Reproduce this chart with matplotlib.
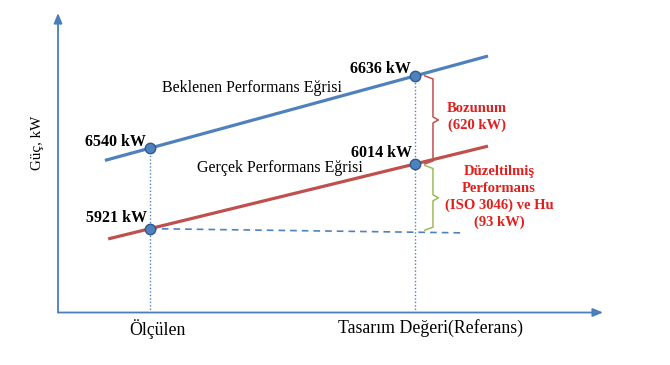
import numpy as np
import matplotlib
matplotlib.use("Agg")
import matplotlib.pyplot as plt

plt.rcParams['font.family'] = ['Liberation Serif', 'DejaVu Serif']

# categories on the x axis (schematic 0-100 scale)
categories = ["Ölçülen", "Tasarım Değeri(Referans)"]
cat_x = [16.9, 65.5]
label_x = [18.2, 68.3]

# power values shown as labels, kW
expected_kw = [6540, 6636]
actual_kw = [5921, 6014]

# heights of the points on the schematic 0-100 drawing
expected_h = [54.9, 79.0]
actual_h = [28.0, 49.6]

# horizontal extent of the two curves
expected_span = [8.6, 78.9]
actual_span = [9.2, 78.9]

# reference (dashed) line from the measured actual point
ref_line_x = [16.9, 74.1]
ref_line_h = [28.0, 26.6]

degradation_kw = 620
correction_kw = 93

blue = "#4F81BD"
red = "#C0504D"
green = "#9BBB59"
txt_red = "#E0201E"

fig = plt.figure(figsize=(6.7, 3.65), dpi=100)
ax = fig.add_axes([0.0866, 0.1438, 0.8134, 0.8205])
ax.set_xlim(0, 100)
ax.set_ylim(0, 100)
for s in ax.spines.values():
    s.set_visible(False)

# axis arrows
ax.annotate("", xy=(1, 0), xytext=(0, 0), xycoords='axes fraction',
            arrowprops=dict(arrowstyle='-|>,head_length=0.6,head_width=0.25',
                            color="#4A7EBB", lw=1.3, shrinkA=0, shrinkB=0))
ax.annotate("", xy=(0, 1), xytext=(0, 0), xycoords='axes fraction',
            arrowprops=dict(arrowstyle='-|>,head_length=0.6,head_width=0.25',
                            color="#4A7EBB", lw=1.3, shrinkA=0, shrinkB=0))

# curves through the two points
def line_through(xs, hs, span):
    k, b = np.polyfit(xs, hs, 1)
    span = np.array(span)
    return span, k * span + b

ex, ey = line_through(cat_x, expected_h, expected_span)
ax.plot(ex, ey, color=blue, lw=2.3, solid_capstyle='butt', zorder=3)
rx, ry = line_through(cat_x, actual_h, actual_span)
ax.plot(rx, ry, color=red, lw=2.3, solid_capstyle='butt', zorder=3)

# dashed reference and dotted drop lines
ax.plot(ref_line_x, ref_line_h, color=blue, lw=1.2, ls=(0, (4, 3)), zorder=2)
for x, h in zip(cat_x, expected_h):
    ax.plot([x, x], [0, h], color=blue, lw=1, ls=(0, (1, 1.5)), zorder=2)

# points
ax.plot(cat_x, expected_h, 'o', ms=7.5, color=blue, mec="#2F5A8F", mew=1, zorder=5)
ax.plot(cat_x, actual_h, 'o', ms=7.5, color=blue, mec="#2F5A8F", mew=1, zorder=5)

# value labels
for x, h, v in zip(cat_x, expected_h, expected_kw):
    ax.text(x - 0.7, h + 2.2, f"{v} kW", ha='right', va='center',
            fontsize=11.5, fontweight='bold')
for x, h, v in zip(cat_x, actual_h, actual_kw):
    ax.text(x - 0.5, h + 3.7, f"{v} kW", ha='right', va='center',
            fontsize=11.5, fontweight='bold')

ax.text(19.1, 75.0, "Beklenen Performans Eğrisi", ha='left', va='center', fontsize=11.5)
ax.text(25.5, 48.2, "Gerçek Performans Eğrisi", ha='left', va='center', fontsize=11.5)

# braces
def brace(x0, x1, x2, top, bottom, color):
    mid = (top + bottom) / 2
    d = 1.0
    xs = [x0, x1, x1, x2, x1, x1, x0]
    ys = [top, top - d, mid + d, mid, mid - d, bottom + d, bottom]
    ax.plot(xs, ys, color=color, lw=1.1, zorder=2)

ref_x = cat_x[1]
brace(ref_x + 1.8, ref_x + 3.3, ref_x + 4.3, expected_h[1], actual_h[1], red)
brace(ref_x + 1.8, ref_x + 3.3, ref_x + 4.3, actual_h[1] - 0.5, 27.5, green)

ax.text(76.9, 65.3, f"Bozunum\n({degradation_kw} kW)", ha='center', va='center',
        fontsize=10.5, fontweight='bold', color=txt_red, linespacing=1.35)
ax.text(80.9, 38.6, f"Düzeltilmiş\nPerformans\n(ISO 3046) ve Hu\n({correction_kw} kW)",
        ha='center', va='center', fontsize=10.5, fontweight='bold', color=txt_red,
        linespacing=1.35)

# category labels on x axis
ax.set_xticks(label_x, categories, fontsize=12.8)
ax.tick_params(axis='x', length=0, pad=5)
ax.set_yticks([])
ax.set_ylabel("Güç, kW", fontsize=10.8)
ax.yaxis.set_label_coords(-0.026, 0.566)

fig.savefig("out.png", dpi=100)
